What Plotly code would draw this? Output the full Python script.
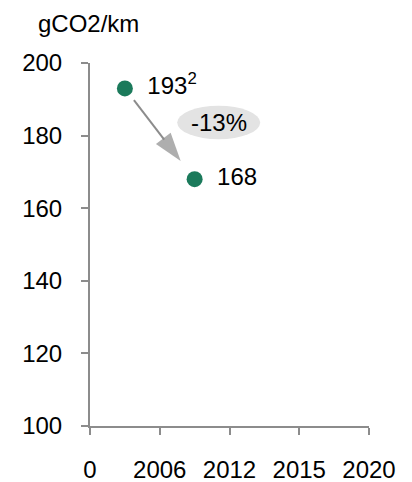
import plotly.graph_objects as go

# data
x_pos = [0.5, 1.5]
co2 = [193, 168]
point_labels = ["193<sup>2</sup>", "168"]
tick_pos = [0, 1, 2, 3, 4]
tick_labels = ["0", "2006", "2012", "2015", "2020"]
y_ticks = [100, 120, 140, 160, 180, 200]
change_label = "-13%"

green = "#1b7a5b"
axis_grey = "#8c8c8c"
font = "Liberation Sans, Arial, sans-serif"

# page body has an 8px margin, so the figure is a bit smaller than the window
W, H = 404, 474
ML, MR, MT, MB = 82, 43, 55, 56

fig = go.Figure()

# arrow between the two points (drawn along the segment joining them)
f0, f1 = 0.13, 0.80
arrow_x = [x_pos[0] + f0 * (x_pos[1] - x_pos[0]), x_pos[0] + f1 * (x_pos[1] - x_pos[0])]
arrow_y = [co2[0] + f0 * (co2[1] - co2[0]), co2[0] + f1 * (co2[1] - co2[0])]
fig.add_trace(
    go.Scatter(
        x=arrow_x,
        y=arrow_y,
        mode="lines+markers",
        line=dict(color=axis_grey, width=2),
        marker=dict(
            symbol=["circle", "arrow"],
            size=[0, 30],
            color=axis_grey,
            angleref="previous",
            line=dict(width=0),
        ),
        cliponaxis=False,
        hoverinfo="skip",
    )
)

fig.add_trace(
    go.Scatter(
        x=x_pos,
        y=co2,
        mode="markers+text",
        marker=dict(color=green, size=16),
        text=[" \u2009" + t for t in point_labels],
        textposition="middle right",
        textfont=dict(size=24, color="black", family=font),
        cliponaxis=False,
        hoverinfo="skip",
    )
)

# grey ellipse behind the change label
fig.add_shape(
    type="circle",
    xref="x", yref="y",
    x0=1.25, x1=2.44, y0=179.0, y1=188.2,
    fillcolor="#e3e3e3",
    line=dict(width=0),
    layer="below",
)
fig.add_annotation(
    x=1.845, y=183.6, xref="x", yref="y",
    text=change_label, showarrow=False,
    font=dict(size=24, color="black", family=font),
)

pw, ph = W - ML - MR, H - MT - MB
fig.add_annotation(
    x=(28 - ML) / pw, y=1 + (MT - 15) / ph,
    xref="paper", yref="paper",
    xanchor="left", yanchor="middle",
    text="gCO2/km", showarrow=False,
    font=dict(size=24, color="black", family=font),
)

fig.update_layout(
    width=W,
    height=H,
    paper_bgcolor="white",
    plot_bgcolor="white",
    showlegend=False,
    margin=dict(l=ML, r=MR, t=MT, b=MB, autoexpand=False),
    font=dict(family=font, size=24, color="black"),
)

fig.update_xaxes(
    range=[0, 4],
    tickvals=tick_pos,
    ticktext=tick_labels,
    showgrid=False,
    zeroline=False,
    showline=True,
    linecolor=axis_grey,
    linewidth=2,
    ticks="outside",
    ticklen=7,
    tickwidth=2,
    tickcolor=axis_grey,
    tickfont=dict(size=24, family=font),
    ticklabelstandoff=14,
    automargin=False,
)
fig.update_yaxes(
    range=[100, 200],
    tickvals=y_ticks,
    showgrid=False,
    zeroline=False,
    showline=True,
    linecolor=axis_grey,
    linewidth=2,
    ticks="outside",
    ticklen=7,
    tickwidth=2,
    tickcolor=axis_grey,
    tickfont=dict(size=24, family=font),
    ticklabelstandoff=14,
    automargin=False,
)

fig.write_html("out.html")
